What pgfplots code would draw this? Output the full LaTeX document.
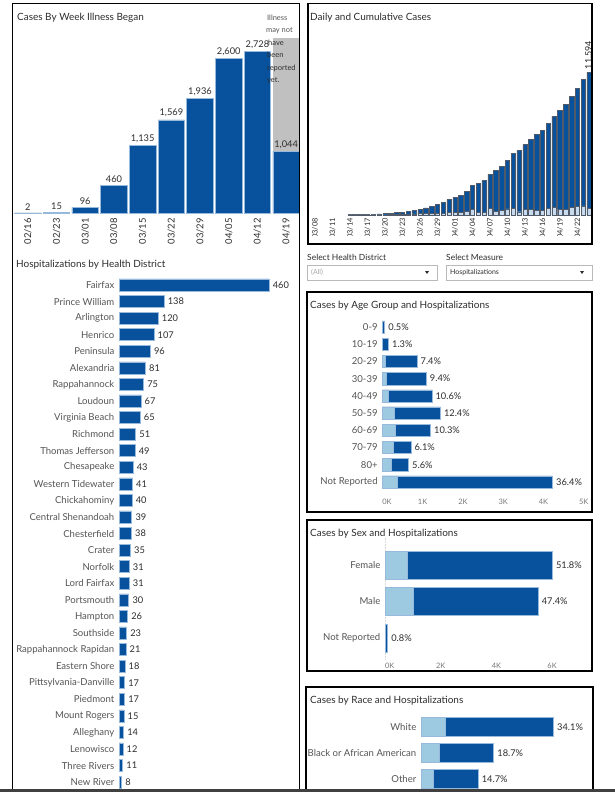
\documentclass[border=0pt]{standalone}
\usepackage{fontspec}
\setmainfont{Lato}
\usepackage{pgfplots}
\pgfplotsset{compat=1.18}

\definecolor{vdark}{RGB}{8,81,156}
\definecolor{vlight}{RGB}{158,202,225}
\definecolor{vpale}{RGB}{200,219,238}
\definecolor{vedge}{RGB}{150,185,220}
\definecolor{barline}{RGB}{80,90,105}
\definecolor{tdark}{RGB}{45,45,45}
\definecolor{tmid}{RGB}{85,85,85}
\definecolor{tgray}{RGB}{120,120,120}
\definecolor{gbox}{RGB}{192,192,192}

\newcommand{\fT}{\fontsize{10}{11}\selectfont}
\newcommand{\fL}{\fontsize{9.6}{11}\selectfont}
\newcommand{\fV}{\fontsize{9.3}{10}\selectfont}
\newcommand{\fS}{\fontsize{7.5}{9}\selectfont}

\pgfplotsset{
  dash/.style={scale only axis, clip=false, axis line style={draw=none}, major tick length=0pt,
    /pgf/number format/assume math mode=true, /pgf/number format/1000 sep={,}},
  cat/.style={yticklabel style={font=\fL, text=tmid, inner sep=0pt, anchor=east, xshift=-4.5bp}},
  pct/.style={point meta=explicit symbolic, nodes near coords,
    every node near coord/.append style={font=\fV, text=tdark, anchor=west, inner sep=0pt, xshift=3.5bp}},
}

\begin{document}
\begin{tikzpicture}
\useasboundingbox (0,0) rectangle (615bp,-792bp);
\fill[white] (0,0) rectangle (615bp,-792bp);

% ---------- Cases by week illness began
\begin{axis}[dash, at={(13.5bp,-213bp)}, anchor=south west, width=287bp, height=178bp,
  xmin=-0.5, xmax=9.5, ymin=0, ymax=3000, ytick=\empty,
  xtick={0,...,9}, xticklabels={02/16,02/23,03/01,03/08,03/15,03/22,03/29,04/05,04/12,04/19},
  xticklabel style={rotate=90, anchor=east, font=\fontsize{9.5}{10}\selectfont, text=tdark, inner xsep=5bp, inner ysep=0pt}]
\addplot[ybar, bar shift=0pt, bar width=27bp, fill=gbox, draw=none] coordinates {(9,2950)};
\addplot[ybar, bar shift=0pt, bar width=26.5bp, fill=vdark, draw=vedge, line width=0.6bp,
  nodes near coords, every node near coord/.append style={font=\fV, text=tdark, inner sep=0pt, yshift=2.5bp}]
  coordinates {(0,2) (1,15) (2,96) (3,460) (4,1135) (5,1569) (6,1936) (7,2600) (8,2728) (9,1044)};
\end{axis}

% ---------- Daily and cumulative cases
\begin{axis}[dash, at={(306.3bp,-215bp)}, anchor=south west, width=285.7bp, height=172.3bp,
  xmin=-1.5, xmax=47.5, ymin=0, ymax=14000, ytick=\empty,
  xtick={0,3,...,45}, xticklabels={03/08,03/11,03/14,03/17,03/20,03/23,03/26,03/29,04/01,04/04,04/07,04/10,04/13,04/16,04/19,04/22},
  xticklabel style={rotate=90, anchor=east, font=\fontsize{7.5}{8}\selectfont, text=tdark, inner xsep=3bp, inner ysep=0pt}]
\addplot[ybar, bar shift=0pt, bar width=4.4bp, fill=vdark, draw=barline, line width=0.5bp] coordinates {
 (6,30) (7,41) (8,45) (9,67) (10,77) (11,94) (12,114) (13,152) (14,190) (15,215) (16,270) (17,352)
 (18,460) (19,570) (20,704) (21,866) (22,1002) (23,1245) (24,1435) (25,1625) (26,1926) (27,2381)
 (28,2576) (29,2787) (30,3307) (31,3599) (32,3981) (33,4469) (34,5013) (35,5281) (36,5712) (37,6151)
 (38,6524) (39,6882) (40,7450) (41,8044) (42,8507) (43,8994) (44,9612) (45,10294) (46,11026) (47,11594)};
\addplot[ybar, bar shift=0pt, bar width=4.4bp, fill=vdark, draw=barline, line width=0.5bp,
  nodes near coords, every node near coord/.append style={rotate=90, anchor=west, font=\fontsize{9}{9}\selectfont, text=tdark, inner xsep=3bp, inner ysep=0pt}]
  coordinates {(47,11594)};
\addplot[ybar, bar shift=0pt, bar width=4.4bp, fill=vpale, draw=barline, line width=0.4bp] coordinates {
 (6,11) (7,4) (8,6) (9,16) (10,10) (11,17) (12,20) (13,38) (14,38) (15,25) (16,55) (17,82)
 (18,108) (19,110) (20,134) (21,162) (22,136) (23,243) (24,190) (25,190) (26,301) (27,455)
 (28,195) (29,211) (30,520) (31,292) (32,382) (33,488) (34,544) (35,268) (36,431) (37,439)
 (38,373) (39,358) (40,568) (41,594) (42,463) (43,487) (44,618) (45,682) (46,732) (47,568)};
\end{axis}
% the dashboard cuts the date labels off at the foot of the pane
\fill[white] (309bp,-235.5bp) rectangle (591bp,-243bp);

% ---------- Hospitalizations by health district
\begin{axis}[dash, cat, at={(119bp,-276.7bp)}, anchor=north west, width=172.8bp, height=513.7bp,
  xmin=0, xmax=530, ymin=-0.5, ymax=30.5, y dir=reverse, xtick=\empty,
  ytick={0,...,30},
  yticklabels={Fairfax,Prince William,Arlington,Henrico,Peninsula,Alexandria,Rappahannock,Loudoun,Virginia Beach,Richmond,Thomas Jefferson,Chesapeake,Western Tidewater,Chickahominy,Central Shenandoah,Chesterfield,Crater,Norfolk,Lord Fairfax,Portsmouth,Hampton,Southside,Rappahannock Rapidan,Eastern Shore,Pittsylvania-Danville,Piedmont,Mount Rogers,Alleghany,Lenowisco,Three Rivers,New River}]
\addplot[xbar, bar shift=0pt, bar width=12bp, fill=vdark, draw=vedge, line width=0.6bp, point meta=x,
  nodes near coords, every node near coord/.append style={font=\fV, text=tdark, anchor=west, inner sep=0pt, xshift=3.5bp}]
  coordinates {(460,0) (138,1) (120,2) (107,3) (96,4) (81,5) (75,6) (67,7) (65,8) (51,9) (49,10) (43,11)
  (41,12) (40,13) (39,14) (38,15) (35,16) (31,17) (31,18) (30,19) (26,20) (23,21) (21,22) (18,23)
  (17,24) (17,25) (15,26) (14,27) (12,28) (11,29) (8,30)};
\end{axis}

% ---------- Age group (total cases, hospitalised share laid over it)
\begin{axis}[dash, cat, at={(382.3bp,-318.4bp)}, anchor=north west, width=201.5bp, height=172.2bp,
  xmin=0, xmax=5000, ymin=-0.5, ymax=9.5, y dir=reverse,
  ytick={0,...,9}, yticklabels={0-9,10-19,20-29,30-39,40-49,50-59,60-69,70-79,80+,Not Reported},
  xtick={0,1000,...,5000}, xticklabels={\hphantom{0K}0K,1K,2K,3K,4K,5K},
  xticklabel style={font=\fS, text=tgray, inner sep=0pt, yshift=-8bp}]
\addplot[xbar, bar shift=0pt, bar width=12.3bp, fill=vdark, draw=vedge, line width=0.5bp, pct] coordinates {(58,0) [0.5\%] (151,1) [1.3\%] (858,2) [7.4\%] (1090,3) [9.4\%] (1229,4) [10.6\%] (1438,5) [12.4\%] (1194,6) [10.3\%] (707,7) [6.1\%] (649,8) [5.6\%] (4222,9) [36.4\%]};
\addplot[xbar, bar shift=0pt, bar width=12.3bp, fill=vlight, draw=vedge, line width=0.5bp] coordinates {(3,0) (5,1) (66,2) (108,3) (149,4) (298,5) (314,6) (273,7) (215,8) (372,9)};
\end{axis}

% ---------- Sex
\begin{axis}[dash, cat, at={(385bp,-546.75bp)}, anchor=north west, width=195bp, height=109.5bp,
  xmin=0, xmax=7000, ymin=-0.5, ymax=2.5, y dir=reverse,
  ytick={0,1,2}, yticklabels={Female,Male,Not Reported},
  xtick={0,2000,4000,6000}, xticklabels={\hphantom{0K}0K,2K,4K,6K},
  xticklabel style={font=\fS, text=tgray, inner sep=0pt, yshift=-7bp}]
\draw[gray!30, densely dotted, line width=0.5bp] (axis cs:0,-0.75) -- (axis cs:0,2.6);
\addplot[xbar, bar shift=0pt, bar width=28bp, fill=vdark, draw=vedge, line width=0.5bp, pct] coordinates {(6006,0) [51.8\%] (5496,1) [47.4\%] (93,2) [0.8\%]};
\addplot[xbar, bar shift=0pt, bar width=28bp, fill=vlight, draw=vedge, line width=0.5bp] coordinates {(800,0) (1017,1) (5,2)};
\end{axis}

% ---------- Race
\begin{axis}[dash, cat, at={(421bp,-714bp)}, anchor=north west, width=167.5bp, height=78bp,
  xmin=0, xmax=5000, ymin=-0.5, ymax=2.5, y dir=reverse,
  ytick={0,1,2}, yticklabels={White,Black or African American,Other}, xtick=\empty]
\addplot[xbar, bar shift=0pt, bar width=19bp, fill=vdark, draw=vedge, line width=0.5bp, pct] coordinates {(3954,0) [34.1\%] (2168,1) [18.7\%] (1704,2) [14.7\%]};
\addplot[xbar, bar shift=0pt, bar width=19bp, fill=vlight, draw=vedge, line width=0.5bp] coordinates {(737,0) (537,1) (358,2)};
\end{axis}

% ---------- titles and notes
\node[anchor=base west, font=\fT, text=tdark, inner sep=0pt] at (17bp,-20bp) {Cases By Week Illness Began};
\node[anchor=base west, font=\fT, text=tdark, inner sep=0pt] at (310bp,-20bp) {Daily and Cumulative Cases};
\node[anchor=base west, font=\fT, text=tdark, inner sep=0pt] at (16bp,-267bp) {Hospitalizations by Health District};
\node[anchor=base west, font=\fT, text=tdark, inner sep=0pt] at (310bp,-308bp) {Cases by Age Group and Hospitalizations};
\node[anchor=base west, font=\fT, text=tdark, inner sep=0pt] at (310bp,-536bp) {Cases by Sex and Hospitalizations};
\node[anchor=base west, font=\fT, text=tdark, inner sep=0pt] at (310bp,-703bp) {Cases by Race and Hospitalizations};
\begin{scope}[every node/.style={anchor=base west, inner sep=0pt, font=\fontsize{7.5}{8}\selectfont}]
\node[text=tmid] at (267bp,-20bp) {Illness};
\node[text=tmid] at (266bp,-32.5bp) {may not};
\node[text=tdark] at (268bp,-45bp) {have};
\node[text=tdark] at (267bp,-57bp) {been};
\node[text=tdark] at (267bp,-70bp) {reported};
\node[text=tdark] at (267bp,-82.5bp) {yet.};
\end{scope}

% ---------- filters
\node[anchor=base west, inner sep=0pt, font=\fontsize{8.5}{9}\selectfont, text=tdark] at (307bp,-260bp) {Select Health District};
\node[anchor=base west, inner sep=0pt, font=\fontsize{8.5}{9}\selectfont, text=tdark] at (446bp,-260bp) {Select Measure};
\draw[gray!55, line width=0.6bp] (307.7bp,-265bp) rectangle (437.7bp,-280bp);
\draw[gray!55, line width=0.6bp] (446.7bp,-265bp) rectangle (592.3bp,-280bp);
\node[anchor=west, inner sep=0pt, font=\fontsize{7}{8}\selectfont, text=gray!70] at (311bp,-272.5bp) {(All)};
\node[anchor=west, inner sep=0pt, font=\fontsize{7}{8}\selectfont, text=tdark] at (450bp,-272.5bp) {Hospitalizations};
\fill[tdark] (425bp,-271bp) -- (429bp,-271bp) -- (427bp,-274bp) -- cycle;
\fill[tdark] (580bp,-271bp) -- (584bp,-271bp) -- (582bp,-274bp) -- cycle;

% ---------- frames
\begin{scope}[line width=1.2bp]
\draw (12.5bp,-800bp) -- (12.5bp,-3.5bp) -- (299.5bp,-3.5bp) -- (299.5bp,-800bp);
\draw (308bp,-3.5bp) rectangle (592bp,-244bp);
\draw (307bp,-292bp) rectangle (592bp,-512bp);
\draw (307bp,-520bp) rectangle (592bp,-671bp);
\draw (306bp,-800bp) -- (306bp,-687bp) -- (593bp,-687bp) -- (593bp,-800bp);
\end{scope}
\fill[black!75] (0,-789bp) rectangle (615bp,-792bp);
\end{tikzpicture}
\end{document}
